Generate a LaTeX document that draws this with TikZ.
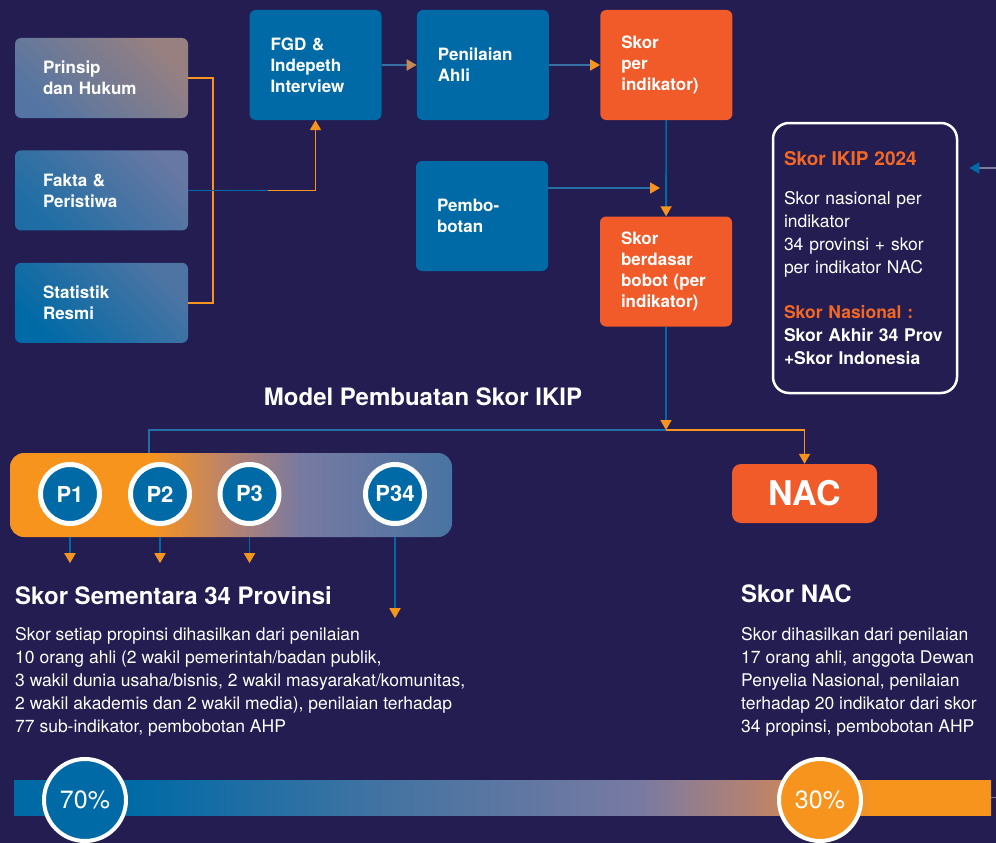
\documentclass[tikz,border=0pt]{standalone}
\usepackage{fontspec}
\setmainfont{TeX Gyre Heros}
\usepackage{tikz}
\usetikzlibrary{positioning,calc,arrows.meta}

\definecolor{ikbg}{RGB}{35,29,82}
\definecolor{ikblue}{RGB}{0,106,166}
\definecolor{ikred}{RGB}{241,90,41}
\definecolor{ikorange}{RGB}{247,148,30}
\definecolor{ikgray}{RGB}{120,122,162}
\definecolor{iktan}{RGB}{182,130,112}
\definecolor{ikslate}{RGB}{72,116,162}
\definecolor{iktitle}{RGB}{243,104,36}

\pgfdeclarehorizontalshading{provfade}{100bp}{color(0bp)=(ikorange); color(25bp)=(ikorange); color(41bp)=(ikorange); color(50bp)=(iktan); color(58bp)=(ikgray); color(75bp)=(ikslate); color(100bp)=(ikslate)}
\pgfdeclarehorizontalshading{sharefade}{100bp}{color(0bp)=(ikblue); color(25bp)=(ikblue); color(31bp)=(ikblue); color(45bp)=(ikslate); color(57bp)=(ikgray); color(63bp)=(iktan); color(69bp)=(ikorange); color(100bp)=(ikorange)}

\newcommand*\txtlbl{\bfseries\fontsize{17}{21}\selectfont}
\newcommand*\txtbody{\fontsize{17.5}{23}\selectfont}
\newcommand*\txthead{\bfseries\fontsize{24}{28}\selectfont}

\begin{document}
\begin{tikzpicture}[x=1pt,y=-1pt,
  srcbox/.style={rounded corners=6pt, minimum width=173pt, minimum height=80pt,
    inner xsep=28pt, text width=117pt, align=left, text=white, font=\txtlbl},
  stepbox/.style={rounded corners=6pt, fill=ikblue, minimum width=132pt, minimum height=110pt,
    inner xsep=21pt, text width=90pt, align=left, text=white, font=\txtlbl},
  scorebox/.style={stepbox, fill=ikred},
  link/.style={line width=1.8pt},
  arr/.style={-{Triangle[width=11pt,length=10pt,color=#1]}},
  prov/.style={circle, draw=white, line width=5pt, fill=ikblue, minimum size=59pt, inner sep=0pt,
    text=white, font=\bfseries\fontsize{22}{22}\selectfont},
  share/.style={circle, draw=white, line width=4pt, minimum size=82pt, inner sep=0pt,
    text=white, font=\fontsize{25}{25}\selectfont},
  note/.style={anchor=north west, inner sep=0pt, align=left, text=white, font=\txtbody},
  heading/.style={anchor=west, inner sep=0pt, text=white, font=\txthead}]
\useasboundingbox (0,0) rectangle (996,843);
\fill[ikbg] (0,0) rectangle (996,843);

% sumber data
\node[srcbox, left color=ikblue!30!ikgray, right color=ikgray!75!ikorange, shading angle=135] (prinsip) at (101.5,78) {Prinsip\\dan Hukum};
\node[srcbox, left color=ikblue!75!ikgray, right color=ikgray!85!ikblue, shading angle=135, below=32pt of prinsip] (fakta) {Fakta \&\\Peristiwa};
\node[srcbox, left color=ikblue, right color=ikblue!35!ikgray, shading angle=135, below=32pt of fakta] (statistik) {Statistik\\Resmi};

% alur penilaian
\node[stepbox] (fgd) at (315.5,65) {FGD \&\\Indepeth\\Interview};
\node[stepbox, right=35pt of fgd] (ahli) {Penilaian\\Ahli};
\node[scorebox, right=51pt of ahli] (skor) {Skor\\per\\indikator)};
\node[stepbox] (bobot) at (482,216) {Pembo-\\botan};
\node[scorebox] (skorbobot) at (666,271.5) {Skor\\berdasar\\bobot (per\\indikator)};

\node[draw=white, line width=2.5pt, rounded corners=16pt, minimum width=184pt, minimum height=270pt,
  inner xsep=11pt, text width=162pt, align=left, text=white, font=\txtbody] (ikip) at (865,258)
  {{\color{iktitle}\bfseries\fontsize{19}{23}\selectfont Skor IKIP 2024}\\[16pt]
   Skor nasional per\\indikator\\34 provinsi + skor\\per indikator NAC\\[22pt]
   {\color{iktitle}\bfseries Skor Nasional :}\\
   {\bfseries Skor Akhir 34 Prov}\\
   {\bfseries +Skor Indonesia}};

\node[text=white, font=\txthead] (judul) at (423,397) {Model Pembuatan Skor IKIP};

% provinsi dan NAC
\node[shade, shading=provfade, rounded corners=14pt, minimum width=442pt, minimum height=84pt] (provbar) at (231,495) {};
\node[prov] (p1) at (70,494) {P1};
\node[prov] (p2) at (160,494) {P2};
\node[prov] (p3) at (249.5,494) {P3};
\node[prov] (p34) at (395,494) {P34};
\node[rounded corners=9pt, fill=ikred, minimum width=145pt, minimum height=59pt, text=white,
  font=\bfseries\fontsize{34}{34}\selectfont] (nac) at (804.5,493.5) {NAC};

\node[heading] (provhead) at (15,596) {Skor Sementara 34 Provinsi};
\node[heading] (nachead) at (741,594) {Skor NAC};
\node[note] (provnote) at (15,627) {Skor setiap propinsi dihasilkan dari penilaian\\10 orang ahli (2 wakil pemerintah/badan publik,\\3 wakil dunia usaha/bisnis, 2 wakil masyarakat/komunitas,\\2 wakil akademis dan 2 wakil media), penilaian terhadap\\77 sub-indikator, pembobotan AHP};
\node[note] (nacnote) at (741,627) {Skor dihasilkan dari penilaian\\17 orang ahli, anggota Dewan\\Penyelia Nasional, penilaian\\terhadap 20 indikator dari skor\\34 propinsi, pembobotan AHP};

% bobot akhir
\node[shade, shading=sharefade, minimum width=977pt, minimum height=35pt, inner sep=0pt] (sharebar) at (502.5,797.5) {};
\node[share, fill=ikblue] (p70) at (85,800) {70\%};
\node[share, fill=ikorange] (p30) at (820,800) {30\%};

% penghubung
\coordinate (split) at (666,430);
\coordinate (bobotend) at (660,188);
\coordinate (provin) at (149,0);
\coordinate (ikipin) at (996,168);

\draw[link, ikorange] (prinsip.east) -- ++(25,0) |- (statistik.east);
\draw[link, ikorange, arr=ikorange] (fakta.east) -| (fgd.south);
\draw[link, ikblue] (fakta.east) -- ++(80,0);
\draw[link, ikblue!55!ikgray, arr=ikorange!60!ikgray] (fgd) -- (ahli);
\draw[link, ikblue!55!ikgray, arr=ikorange] (ahli) -- (skor);
\draw[link, ikblue!70!ikgray, arr=ikorange] (bobot.east |- bobotend) -- (bobotend);
\draw[link, ikblue, arr=ikorange] (skor) -- (skorbobot);
\draw[link, ikblue, arr=ikorange] (skorbobot) -- (split);
\draw[link, ikblue!70!ikgray] (split) -| (provbar.north -| provin);
\draw[link, ikorange, arr=ikorange] (split) -| (nac.north);
\draw[link, ikblue, arr=ikorange] (p1 |- provbar.south) -- ++(0,26);
\draw[link, ikblue, arr=ikorange] (p2 |- provbar.south) -- ++(0,26);
\draw[link, ikblue, arr=ikorange] (p3 |- provbar.south) -- ++(0,26);
\draw[link, ikblue, arr=ikorange] (p34 |- provbar.south) -- ++(0,81);
\draw[link, ikgray, arr=ikblue] (ikipin) -- ($(ikip.east |- ikipin)+(11,0)$);
\draw[link, ikgray] (sharebar.east) -- ++(6,0);
\end{tikzpicture}
\end{document}
